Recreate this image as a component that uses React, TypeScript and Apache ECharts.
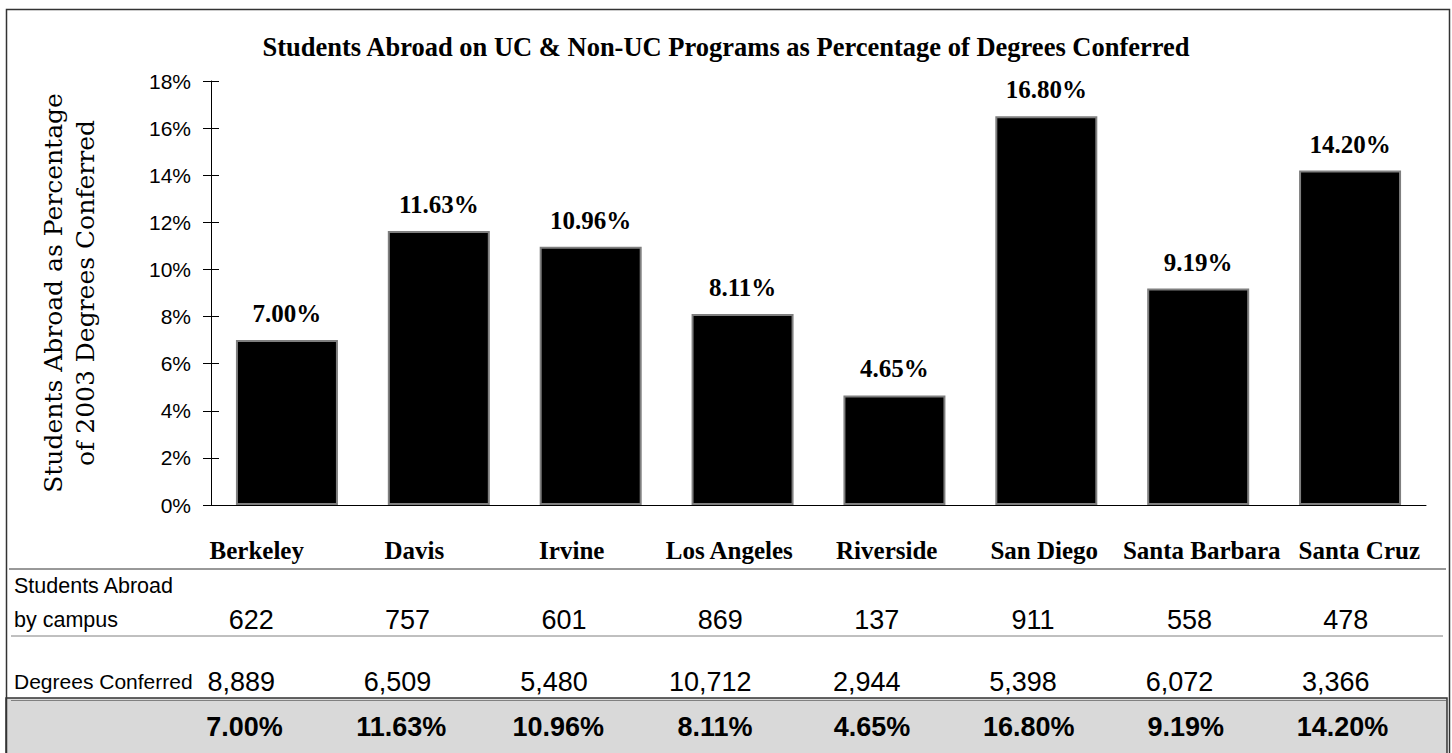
import React, { useEffect, useRef } from "react";
import * as echarts from "echarts";

const campuses = [
  "Berkeley",
  "Davis",
  "Irvine",
  "Los Angeles",
  "Riverside",
  "San Diego",
  "Santa Barbara",
  "Santa Cruz",
];
// bar heights (percent)
const barHeights = [7.0, 11.63, 10.96, 8.11, 4.65, 16.5, 9.19, 14.2];
// value labels printed over the bars and in the bottom row
const percentLabels = ["7.00%", "11.63%", "10.96%", "8.11%", "4.65%", "16.80%", "9.19%", "14.20%"];
const studentsAbroad = [622, 757, 601, 869, 137, 911, 558, 478];
const degreesConferred = [8889, 6509, 5480, 10712, 2944, 5398, 6072, 3366];
const yTicks = [0, 2, 4, 6, 8, 10, 12, 14, 16, 18];

const TITLE = "Students Abroad on UC & Non-UC Programs as Percentage of Degrees Conferred";
const Y_NAME = "Students Abroad as Percentage\nof 2003 Degrees Conferred";

const SERIF = "'Liberation Serif', 'Times New Roman', serif";
const SANS = "'Liberation Sans', Arial, sans-serif";

export default function App() {
  const ref = useRef<HTMLDivElement>(null);

  useEffect(() => {
    if (!ref.current) return;
    const chart = echarts.init(ref.current, undefined, { renderer: "svg" });

    const tableAxis = (gridIndex: number, data: string[], font: any) => ({
      type: "category",
      gridIndex,
      position: "bottom",
      data,
      axisLine: { show: false },
      axisTick: { show: false },
      splitLine: { show: false },
      axisLabel: {
        interval: 0,
        margin: 0,
        verticalAlign: "middle",
        color: "#000",
        ...font,
      },
    });
    const hiddenY = (gridIndex: number) => ({ type: "value", gridIndex, show: false });

    const option: any = {
      animation: false,
      backgroundColor: "#fff",
      title: {
        text: TITLE,
        left: "center",
        top: 28,
        textStyle: {
          fontFamily: SERIF,
          fontWeight: "bold",
          fontSize: 26.5,
          color: "#000",
        },
      },
      grid: [
        { left: 211, top: 81, width: 1215, height: 424 },
        // table rows: the row's label centre sits at the grid's bottom edge
        { left: 178, top: 540, width: 1260, height: 10 },
        { left: 173, top: 610, width: 1251, height: 10 },
        { left: 163, top: 672, width: 1251, height: 10 },
        { left: 166, top: 717, width: 1255, height: 10 },
      ],
      xAxis: [
        {
          type: "category",
          gridIndex: 0,
          data: campuses,
          axisLine: { show: true, lineStyle: { color: "#000", width: 1 } },
          axisTick: { show: false },
          axisLabel: { show: false },
          splitLine: { show: false },
        },
        tableAxis(1, campuses, { fontFamily: SERIF, fontWeight: "bold", fontSize: 25 }),
        tableAxis(2, studentsAbroad.map((v) => v.toLocaleString("en-US")), {
          fontFamily: SANS,
          fontSize: 27,
        }),
        tableAxis(3, degreesConferred.map((v) => v.toLocaleString("en-US")), {
          fontFamily: SANS,
          fontSize: 27,
        }),
        tableAxis(4, percentLabels, { fontFamily: SANS, fontWeight: "bold", fontSize: 27 }),
      ],
      yAxis: [
        {
          type: "value",
          gridIndex: 0,
          min: yTicks[0],
          max: yTicks[yTicks.length - 1],
          interval: 2,
          name: Y_NAME,
          nameLocation: "middle",
          nameGap: 110,
          nameTextStyle: {
            fontFamily: "'DejaVu Serif', serif",
            fontSize: 25,
            lineHeight: 32,
            color: "#000",
          },
          axisLine: { show: true, lineStyle: { color: "#000", width: 1 } },
          axisTick: { show: true, inside: false, length: 8, lineStyle: { color: "#000" } },
          axisLabel: {
            margin: 20,
            formatter: "{value}%",
            fontFamily: SANS,
            fontSize: 21,
            color: "#000",
          },
          splitLine: { show: false },
        },
        {
          type: "value",
          gridIndex: 0,
          position: "left",
          min: yTicks[0],
          max: yTicks[yTicks.length - 1],
          interval: 2,
          axisLine: { show: false },
          axisTick: { show: true, inside: true, length: 8, lineStyle: { color: "#000" } },
          axisLabel: { show: false },
          splitLine: { show: false },
        },
        hiddenY(1),
        hiddenY(2),
        hiddenY(3),
        hiddenY(4),
      ],
      series: [
        {
          type: "bar",
          xAxisIndex: 0,
          yAxisIndex: 0,
          data: barHeights,
          barWidth: 102,
          itemStyle: {
            color: "#000",
            borderColor: "#7f7f7f",
            borderWidth: 2,
          },
          label: {
            show: true,
            position: "top",
            distance: 14,
            formatter: (p: any) => percentLabels[p.dataIndex],
            fontFamily: SERIF,
            fontWeight: "bold",
            fontSize: 25,
            color: "#000",
          },
        },
      ],
      graphic: [
        {
          type: "rect",
          z: -10,
          shape: { x: 6, y: 698, width: 1441, height: 70 },
          style: { fill: "#d9d9d9", stroke: "#333", lineWidth: 1.5 },
        },
        {
          type: "rect",
          z: 10,
          shape: { x: 6.5, y: 9.5, width: 1443, height: 760 },
          style: { fill: "none", stroke: "#333", lineWidth: 1.5 },
        },
        {
          type: "line",
          shape: { x1: 9, y1: 569, x2: 1446, y2: 569 },
          style: { stroke: "#333", lineWidth: 1 },
        },
        {
          type: "line",
          shape: { x1: 11, y1: 636, x2: 1443, y2: 636 },
          style: { stroke: "#808080", lineWidth: 1 },
        },
        {
          type: "line",
          shape: { x1: 11, y1: 700.5, x2: 1446, y2: 700.5 },
          style: { stroke: "#808080", lineWidth: 1 },
        },
        {
          type: "text",
          left: 14,
          top: 575,
          style: {
            text: "Students Abroad",
            fontFamily: SANS,
            fontSize: 21.5,
            fill: "#000",
          },
        },
        {
          type: "text",
          left: 14,
          top: 609,
          style: {
            text: "by campus",
            fontFamily: SANS,
            fontSize: 21.5,
            fill: "#000",
          },
        },
        {
          type: "text",
          left: 14,
          top: 671,
          style: {
            text: "Degrees Conferred",
            fontFamily: SANS,
            fontSize: 21,
            fill: "#000",
          },
        },
      ],
    };

    chart.setOption(option);
    return () => chart.dispose();
  }, []);

  return (
    <div
      ref={ref}
      style={{ position: "fixed", left: 0, top: 0, width: 1452, height: 753, background: "#fff" }}
    />
  );
}
